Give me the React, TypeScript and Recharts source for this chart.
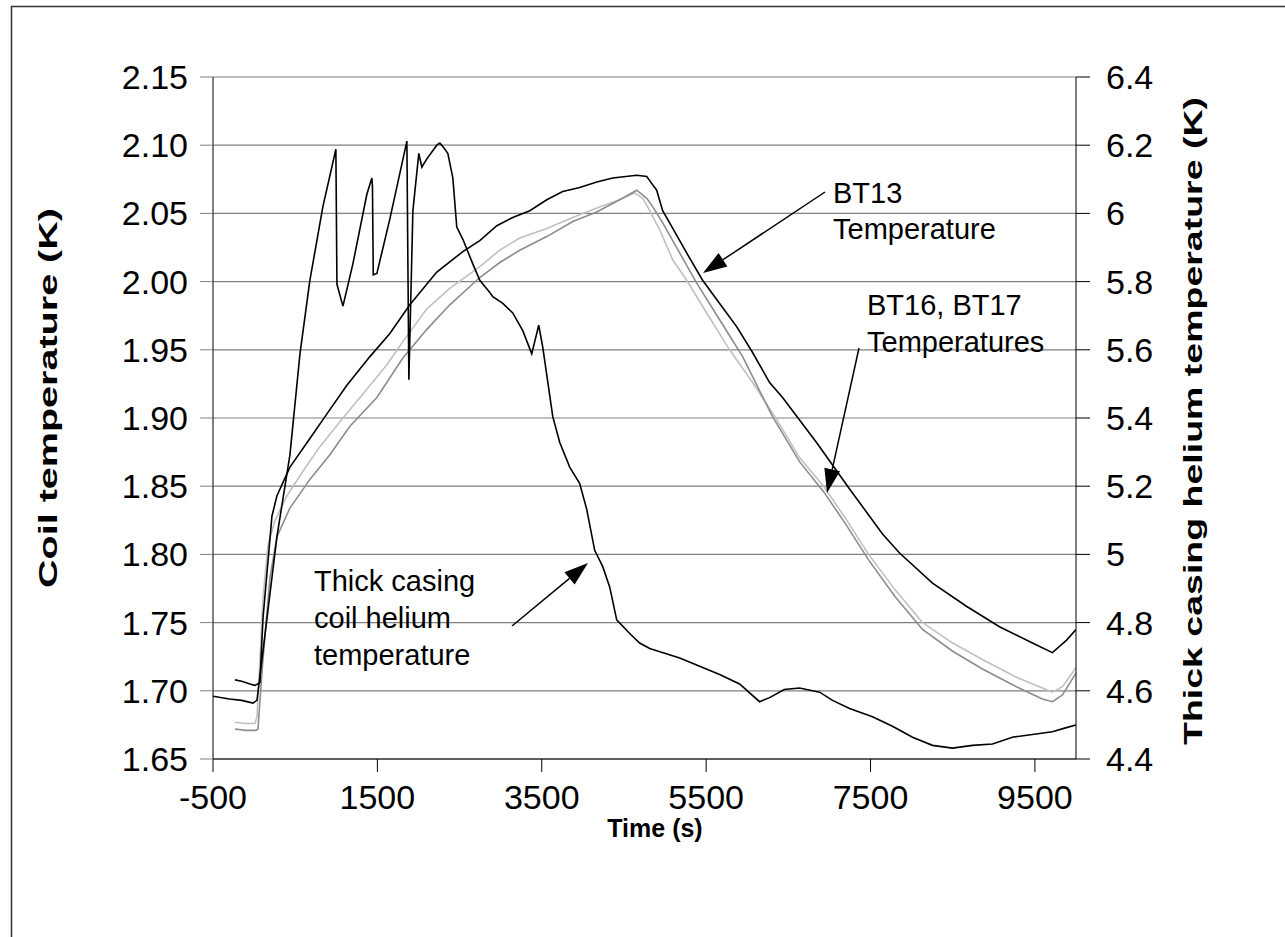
import { LineChart, Line, XAxis, YAxis, CartesianGrid } from 'recharts';

// time (s), coil temperature (K) — left axis
const bt13: [number, number][] = [
  [-233, 1.708], [-150, 1.707], [-50, 1.705], [11, 1.704], [71, 1.706], [108, 1.753], [169, 1.795],
  [217, 1.828], [278, 1.843], [436, 1.864], [679, 1.885], [886, 1.903], [1129, 1.924], [1409, 1.945],
  [1652, 1.962], [1895, 1.983], [2223, 2.007], [2540, 2.022], [2746, 2.03], [2953, 2.041], [3147, 2.047],
  [3354, 2.052], [3561, 2.06], [3755, 2.066], [3962, 2.069], [4169, 2.073], [4363, 2.076], [4655, 2.078],
  [4777, 2.077], [4837, 2.072], [4898, 2.067], [4971, 2.052], [5056, 2.043], [5263, 2.021], [5457, 2.001],
  [5664, 1.984], [5871, 1.967], [6065, 1.948], [6272, 1.926], [6430, 1.915], [6843, 1.882], [7245, 1.848],
  [7646, 1.815], [7853, 1.801], [8254, 1.779], [8667, 1.762], [9069, 1.747], [9470, 1.735], [9713, 1.728],
  [9883, 1.737], [10000, 1.745],
];

const bt16: [number, number][] = [
  [-233, 1.677], [-100, 1.676], [11, 1.676], [35, 1.681], [71, 1.723], [108, 1.768], [169, 1.807],
  [254, 1.825], [400, 1.843], [594, 1.861], [801, 1.879], [1081, 1.9], [1372, 1.921], [1616, 1.939],
  [1810, 1.956], [2102, 1.98], [2381, 1.995], [2746, 2.011], [2989, 2.023], [3232, 2.032], [3561, 2.039],
  [3877, 2.047], [4169, 2.054], [4448, 2.06], [4631, 2.065], [4728, 2.061], [4813, 2.052], [4935, 2.038],
  [5093, 2.016], [5263, 2.001], [5506, 1.977], [5786, 1.95], [6065, 1.926], [6357, 1.899], [6636, 1.871],
  [6929, 1.85], [7200, 1.826], [7476, 1.8], [7800, 1.774], [8133, 1.75], [8500, 1.735], [8862, 1.723],
  [9275, 1.71], [9591, 1.702], [9713, 1.699], [9835, 1.703], [10000, 1.717],
];

const bt17: [number, number][] = [
  [-233, 1.672], [-100, 1.671], [23, 1.671], [47, 1.672], [108, 1.723], [193, 1.783], [278, 1.813],
  [436, 1.834], [679, 1.855], [922, 1.873], [1166, 1.894], [1494, 1.915], [1810, 1.944], [2102, 1.965],
  [2381, 1.983], [2746, 2.003], [2989, 2.014], [3232, 2.023], [3561, 2.033], [3877, 2.044], [4169, 2.051],
  [4448, 2.06], [4655, 2.067], [4777, 2.061], [4850, 2.055], [4971, 2.043], [5178, 2.021], [5384, 1.999],
  [5664, 1.972], [5944, 1.945], [6308, 1.901], [6636, 1.868], [6929, 1.846], [7200, 1.822], [7476, 1.796],
  [7800, 1.769], [8133, 1.745], [8500, 1.729], [8862, 1.716], [9275, 1.703], [9591, 1.694], [9713, 1.692],
  [9835, 1.697], [10000, 1.713],
];

// time (s), thick casing helium temperature (K) — right axis
const thickHe: [number, number][] = [
  [-500, 4.584], [-300, 4.576], [-150, 4.572], [-14, 4.564], [35, 4.572], [278, 5.052], [436, 5.292],
  [558, 5.588], [679, 5.804], [837, 6.02], [995, 6.188], [1008, 5.792], [1081, 5.728], [1202, 5.852],
  [1372, 6.056], [1433, 6.104], [1440, 6.08], [1450, 5.82], [1494, 5.824], [1652, 5.984], [1859, 6.212],
  [1883, 5.512], [1932, 6.008], [2004, 6.176], [2041, 6.136], [2102, 6.16], [2223, 6.2], [2260, 6.206],
  [2296, 6.196], [2357, 6.176], [2418, 6.104], [2466, 5.96], [2540, 5.924], [2661, 5.852], [2746, 5.804],
  [2868, 5.768], [2904, 5.756], [3026, 5.736], [3147, 5.708], [3269, 5.656], [3378, 5.588], [3463, 5.672],
  [3512, 5.608], [3634, 5.404], [3719, 5.328], [3840, 5.256], [3962, 5.208], [4047, 5.132], [4144, 5.012],
  [4242, 4.964], [4327, 4.904], [4412, 4.808], [4570, 4.768], [4691, 4.74], [4813, 4.724], [5178, 4.696],
  [5421, 4.672], [5664, 4.648], [5907, 4.62], [6150, 4.568], [6272, 4.58], [6450, 4.604], [6636, 4.608],
  [6880, 4.596], [7038, 4.572], [7245, 4.548], [7524, 4.524], [7767, 4.496], [8011, 4.464], [8254, 4.44],
  [8497, 4.432], [8740, 4.44], [8984, 4.444], [9226, 4.464], [9470, 4.472], [9713, 4.48], [9883, 4.492],
  [10000, 4.5],
];

const xTicks = [-500, 1500, 3500, 5500, 7500, 9500];
const leftTicks = [1.65, 1.7, 1.75, 1.8, 1.85, 1.9, 1.95, 2.0, 2.05, 2.1, 2.15];
const rightTicks = [4.4, 4.6, 4.8, 5.0, 5.2, 5.4, 5.6, 5.8, 6.0, 6.2, 6.4];

const W = 1285;
const H = 937;
const FONT = '"Liberation Sans", Arial, sans-serif';

const toRows = (pts: [number, number][]) => pts.map(([t, v]) => ({ t, v }));

function Arrow({ x1, y1, x2, y2 }: { x1: number; y1: number; x2: number; y2: number }) {
  const a = Math.atan2(y2 - y1, x2 - x1);
  const len = 24;
  const hw = 8;
  const bx = x2 - len * Math.cos(a);
  const by = y2 - len * Math.sin(a);
  const px = -Math.sin(a) * hw;
  const py = Math.cos(a) * hw;
  return (
    <g>
      <line x1={x1} y1={y1} x2={bx} y2={by} stroke="#000" strokeWidth={1.5} />
      <polygon points={`${x2},${y2} ${bx + px},${by + py} ${bx - px},${by - py}`} fill="#000" />
    </g>
  );
}

export default function App() {
  const tickStyle = { fontSize: 34, fill: '#000', fontFamily: FONT };
  return (
    <div style={{ position: 'absolute', left: 0, top: 0, width: W, height: H, overflow: 'hidden', background: '#fff' }}>
      <LineChart width={W} height={H} margin={{ top: 77, right: 89, bottom: 118, left: 73 }}>
        <CartesianGrid yAxisId="left" vertical={false} stroke="#808080" strokeWidth={1.2} />
        <XAxis
          dataKey="t"
          type="number"
          domain={[-500, 10000]}
          ticks={xTicks}
          allowDataOverflow
          height={60}
          tick={tickStyle}
          tickSize={13}
          tickMargin={13}
          tickLine={{ stroke: '#000' }}
          axisLine={{ stroke: '#000' }}
        />
        <YAxis
          yAxisId="left"
          domain={[1.65, 2.15]}
          ticks={leftTicks}
          allowDataOverflow
          width={140}
          tick={tickStyle}
          tickFormatter={(v: number) => v.toFixed(2)}
          tickSize={13}
          tickMargin={12}
          tickLine={{ stroke: '#808080' }}
          axisLine={{ stroke: '#000' }}
        />
        <YAxis
          yAxisId="right"
          orientation="right"
          domain={[4.4, 6.4]}
          ticks={rightTicks}
          allowDataOverflow
          width={120}
          tick={tickStyle}
          tickFormatter={(v: number) => String(Number(v.toFixed(1)))}
          tickSize={14}
          tickMargin={16}
          tickLine={{ stroke: '#000' }}
          axisLine={{ stroke: '#000' }}
        />
        <Line yAxisId="left" data={toRows(bt16)} dataKey="v" type="linear" stroke="#c0c0c0" strokeWidth={1.6} dot={false} isAnimationActive={false} />
        <Line yAxisId="left" data={toRows(bt17)} dataKey="v" type="linear" stroke="#8c8c8c" strokeWidth={1.6} dot={false} isAnimationActive={false} />
        <Line yAxisId="left" data={toRows(bt13)} dataKey="v" type="linear" stroke="#000" strokeWidth={1.6} dot={false} isAnimationActive={false} />
        <Line yAxisId="right" data={toRows(thickHe)} dataKey="v" type="linear" stroke="#000" strokeWidth={1.6} dot={false} isAnimationActive={false} />
      </LineChart>
      <svg width={W} height={H} style={{ position: 'absolute', left: 0, top: 0, pointerEvents: 'none' }}>
        <rect x={11.5} y={6.5} width={1400} height={1100} fill="none" stroke="#333" strokeWidth={1.5} />
        <g fontFamily={FONT} fontSize={29} fill="#000">
          <text x={833} y={203}>BT13</text>
          <text x={833} y={239}>Temperature</text>
          <text x={867} y={315}>BT16, BT17</text>
          <text x={867} y={352}>Temperatures</text>
          <text x={314} y={591}>Thick casing</text>
          <text x={314} y={628}>coil helium</text>
          <text x={314} y={665}>temperature</text>
        </g>
        <Arrow x1={825} y1={192} x2={703} y2={273} />
        <Arrow x1={859} y1={348} x2={827} y2={493} />
        <Arrow x1={512} y1={626} x2={588} y2={563} />
        <g fontFamily={FONT} fontSize={25} fontWeight="bold" fill="#000">
          <text x={655} y={837} textAnchor="middle">Time (s)</text>
          <text transform="translate(57,398) rotate(-90)" textAnchor="middle" textLength={380} lengthAdjust="spacingAndGlyphs">
            Coil temperature (K)
          </text>
          <text transform="translate(1202,421) rotate(-90)" textAnchor="middle" textLength={648} lengthAdjust="spacingAndGlyphs">
            Thick casing helium temperature (K)
          </text>
        </g>
      </svg>
    </div>
  );
}
